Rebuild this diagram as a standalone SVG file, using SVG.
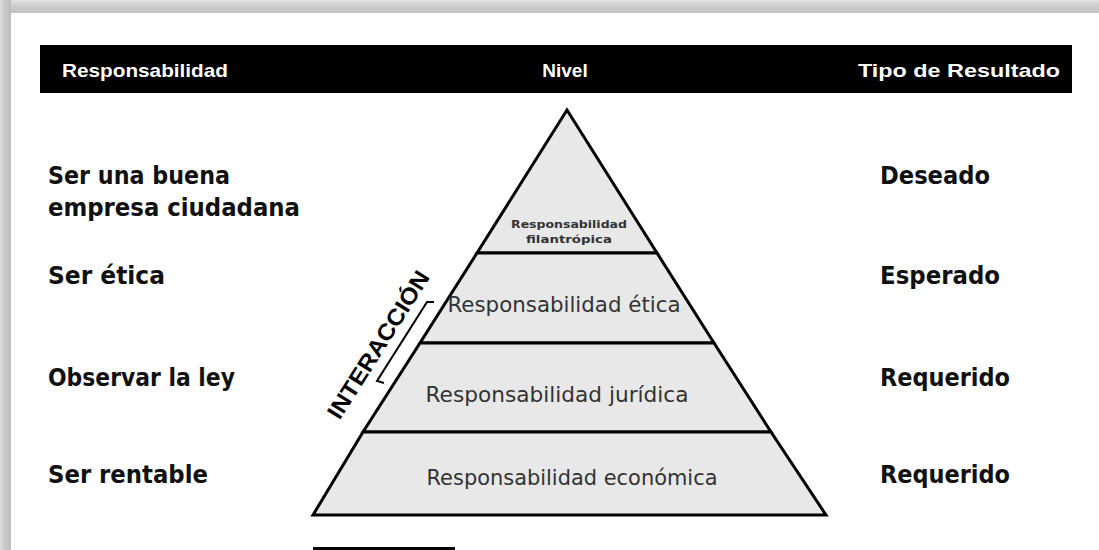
<svg xmlns="http://www.w3.org/2000/svg" width="1099" height="550" viewBox="0 0 1099 550">
<defs>
<linearGradient id="topShade" x1="0" y1="0" x2="0" y2="1">
<stop offset="0" stop-color="#e4e4e4"/>
<stop offset="0.35" stop-color="#cfcfcf"/>
<stop offset="1" stop-color="#c2c2c2"/>
</linearGradient>
<linearGradient id="leftShade" x1="0" y1="0" x2="1" y2="0">
<stop offset="0" stop-color="#dedede"/>
<stop offset="0.35" stop-color="#cbcbcb"/>
<stop offset="1" stop-color="#bdbdbd"/>
</linearGradient>
</defs>
<style>
.hdr{font-family:"Liberation Sans",Arial,sans-serif;font-weight:bold;font-size:19px;fill:#ffffff}
.side{font-family:"DejaVu Sans",Verdana,sans-serif;font-weight:bold;font-size:24px;fill:#111111}
.lvl{font-family:"DejaVu Sans",Verdana,sans-serif;font-size:21px;fill:#333333;text-anchor:middle}
.lvlsmall{font-family:"DejaVu Sans",Verdana,sans-serif;font-weight:bold;font-size:11px;fill:#333333;text-anchor:middle}
.layer{fill:#e8e8e8;stroke:#000000;stroke-width:3;stroke-linejoin:miter}
.inter{font-family:"Liberation Sans",Arial,sans-serif;font-weight:bold;font-size:23px;fill:#000000;text-anchor:middle}
</style>
<rect x="0" y="0" width="1099" height="550" fill="#ffffff"/>
<rect x="0" y="0" width="1099" height="13" fill="url(#topShade)"/>
<rect x="0" y="0" width="11" height="550" fill="url(#leftShade)"/>
<g id="header">
<rect x="40" y="45" width="1032" height="48" fill="#000000"/>
<text class="hdr" x="62" y="77" textLength="166" lengthAdjust="spacingAndGlyphs">Responsabilidad</text>
<text class="hdr" x="565" y="77" text-anchor="middle">Nivel</text>
<text class="hdr" x="858" y="77" textLength="202" lengthAdjust="spacingAndGlyphs">Tipo de Resultado</text>
</g>
<g id="pyramid">
<g id="level-filantropica">
<polygon class="layer" points="567,110 657,253 477,253"/>
<text class="lvlsmall" x="569" y="228" textLength="116" lengthAdjust="spacingAndGlyphs">Responsabilidad</text>
<text class="lvlsmall" x="569" y="243" textLength="86" lengthAdjust="spacingAndGlyphs">filantrópica</text>
</g>
<g id="level-etica">
<polygon class="layer" points="477,253 657,253 714,343 420,343"/>
<text class="lvl" x="564" y="312" textLength="233" lengthAdjust="spacingAndGlyphs">Responsabilidad ética</text>
</g>
<g id="level-juridica">
<polygon class="layer" points="420,343 714,343 771,432 363,432"/>
<text class="lvl" x="557" y="402" textLength="263" lengthAdjust="spacingAndGlyphs">Responsabilidad jurídica</text>
</g>
<g id="level-economica">
<polygon class="layer" points="363,432 771,432 826,515 313,515"/>
<text class="lvl" x="572" y="485" textLength="291" lengthAdjust="spacingAndGlyphs">Responsabilidad económica</text>
</g>
</g>
<g id="interaccion">
<text class="inter" transform="translate(385,349) rotate(-57.7)" x="0" y="0" textLength="170" lengthAdjust="spacingAndGlyphs">INTERACCIÓN</text>
</g>
<g id="connectors">
<polyline points="434,302 427,302 377,381 384,383" fill="none" stroke="#000000" stroke-width="2"/>
</g>
<g id="left-labels">
<text class="side" x="48" y="184" textLength="182" lengthAdjust="spacingAndGlyphs">Ser una buena</text>
<text class="side" x="48" y="216" textLength="252" lengthAdjust="spacingAndGlyphs">empresa ciudadana</text>
<text class="side" x="48" y="284" textLength="117" lengthAdjust="spacingAndGlyphs">Ser ética</text>
<text class="side" x="48" y="386" textLength="187" lengthAdjust="spacingAndGlyphs">Observar la ley</text>
<text class="side" x="48" y="483" textLength="160" lengthAdjust="spacingAndGlyphs">Ser rentable</text>
</g>
<g id="right-labels">
<text class="side" x="880" y="184" textLength="110" lengthAdjust="spacingAndGlyphs">Deseado</text>
<text class="side" x="880" y="284" textLength="120" lengthAdjust="spacingAndGlyphs">Esperado</text>
<text class="side" x="880" y="386" textLength="130" lengthAdjust="spacingAndGlyphs">Requerido</text>
<text class="side" x="880" y="483" textLength="130" lengthAdjust="spacingAndGlyphs">Requerido</text>
</g>
<rect id="footer-bar" x="313" y="547" width="142" height="3" fill="#000000"/>
</svg>
